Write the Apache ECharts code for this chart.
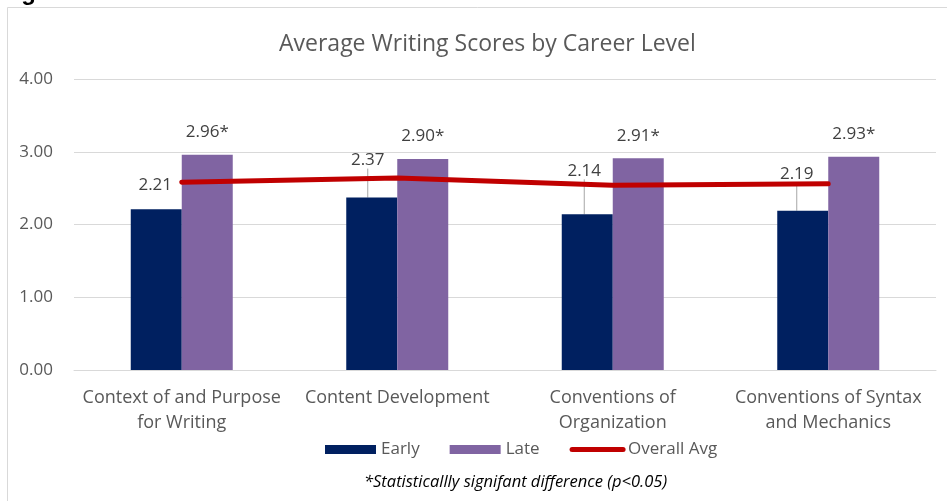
<!DOCTYPE html>
<html>
<head>
<meta charset="utf-8">
<script src="https://cdn.jsdelivr.net/npm/echarts@6/dist/echarts.min.js"></script>
<style>
html,body{margin:0;padding:0;background:#fff;}
#chart{width:947px;height:501px;}
</style>
</head>
<body>
<div id="chart"></div>
<script>
var categories = ['Context of and Purpose\nfor Writing', 'Content Development', 'Conventions of\nOrganization', 'Conventions of Syntax\nand Mechanics'];
var earlyValues = [2.21, 2.37, 2.14, 2.19];
var lateValues = [2.96, 2.90, 2.91, 2.93];
var overallAvg = [2.58, 2.64, 2.54, 2.56];
var yTicks = [0, 1, 2, 3, 4];
var titleText = 'Average Writing Scores by Career Level';
var footnote = '*Statisticallly signifant difference (p<0.05)';

var FONT = 'Open Sans';
var GREY = '#595959';
var earlyLabelShift = [[-1, -11], [-4, -24], [-3, -30], [-6, -23]];
var earlyLeader = [false, true, true, true];

var chart = echarts.init(document.getElementById('chart'));
chart.setOption({
  backgroundColor: '#fff',
  animation: false,
  title: {
    text: titleText,
    left: 274,
    top: 28,
    textStyle: {fontFamily: FONT, fontSize: 23, fontWeight: 'normal', color: GREY}
  },
  graphic: [
    {type: 'rect', shape: {x: 7.5, y: 7.5, width: 1000, height: 600}, style: {fill: 'none', stroke: '#d9d9d9', lineWidth: 1}, z: -1},
    {type: 'text', left: 0, top: -19, style: {text: 'Figure 1', font: 'bold 24px Arial', fill: '#000'}},
    {type: 'text', left: 364, top: 474, style: {text: footnote, font: 'italic 16.5px "Open Sans"', fill: '#000'}}
  ],
  legend: {
    bottom: 38,
    left: 320,
    itemWidth: 51,
    itemHeight: 9,
    itemGap: 30,
    textStyle: {fontFamily: FONT, fontSize: 17, color: GREY},
    data: [
      {name: 'Early', icon: 'rect'},
      {name: 'Late', icon: 'rect'},
      {name: 'Overall Avg', itemStyle: {color: 'rgba(0,0,0,0)', borderWidth: 0}, lineStyle: {width: 5, cap: 'round', color: '#c00000'}}
    ]
  },
  grid: {left: 74, right: 11, top: 79, bottom: 131},
  xAxis: {
    type: 'category',
    data: categories,
    axisTick: {show: false},
    axisLine: {lineStyle: {color: '#d9d9d9', width: 1}},
    axisLabel: {fontFamily: FONT, fontSize: 18, color: GREY, margin: 15, lineHeight: 25, interval: 0}
  },
  yAxis: {
    type: 'value',
    min: yTicks[0],
    max: yTicks[yTicks.length - 1],
    interval: 1,
    axisLine: {show: false},
    axisTick: {show: false},
    splitLine: {lineStyle: {color: '#d9d9d9', width: 1}},
    axisLabel: {fontFamily: FONT, fontSize: 17, color: GREY, margin: 21, formatter: function (v) { return v.toFixed(2); }}
  },
  series: [
    {
      name: 'Early', type: 'bar',
      data: earlyValues.map(function (v, i) { return {value: v, labelLine: {show: earlyLeader[i]}}; }),
      barWidth: 51, barGap: '0%',
      itemStyle: {color: '#002060'},
      label: {show: true, position: 'top', distance: 5, fontFamily: FONT, fontSize: 17, color: '#404040',
        formatter: function (p) { return p.value.toFixed(2); }},
      labelLine: {show: true, lineStyle: {color: '#a6a6a6', width: 1}},
      labelLayout: function (p) {
        var s = earlyLabelShift[p.dataIndex];
        return {dx: s[0], dy: s[1]};
      }
    },
    {
      name: 'Late', type: 'bar', data: lateValues,
      barWidth: 51, barGap: '0%',
      itemStyle: {color: '#8064a2'},
      label: {show: true, position: 'top', distance: 14, fontFamily: FONT, fontSize: 17, color: '#404040',
        formatter: function (p) { return p.value.toFixed(2) + '*'; }}
    },
    {
      name: 'Overall Avg', type: 'line', data: overallAvg,
      symbol: 'circle', showSymbol: false, smooth: false,
      lineStyle: {color: '#c00000', width: 5, cap: 'round'},
      itemStyle: {color: '#c00000'},
      z: 5
    }
  ]
});
</script>
</body>
</html>
